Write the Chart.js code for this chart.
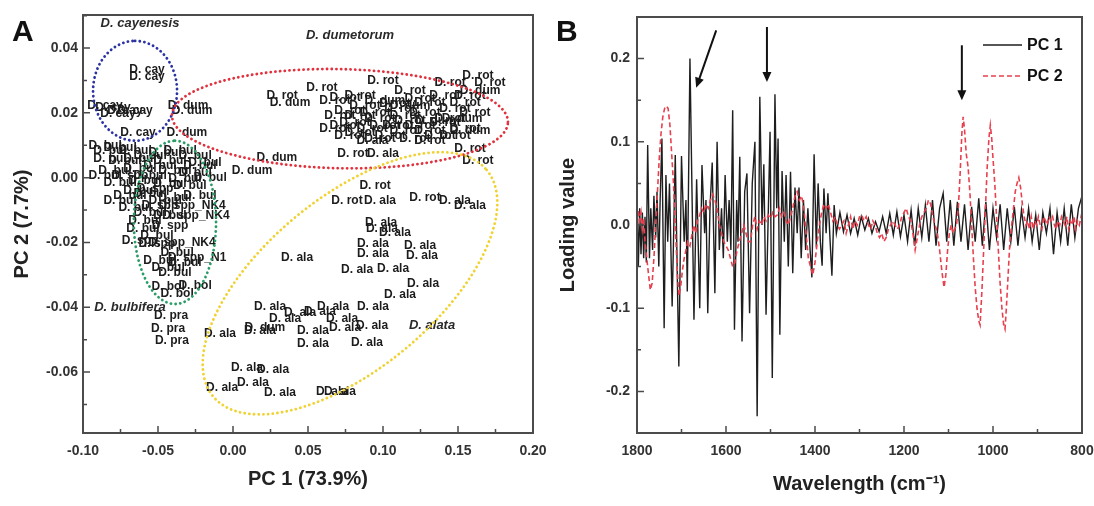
<!DOCTYPE html>
<html lang="en">
<head>
<meta charset="UTF-8" />
<title>PCA scores and loadings</title>
<script src="https://cdn.jsdelivr.net/npm/chart.js"></script>
<style>
  body { margin: 0; background: #fff; }
  #wrapA { position: absolute; left: 0; top: 0; width: 548px; height: 506px; }
  #wrapB { position: absolute; left: 548px; top: 0; width: 546px; height: 506px; }
</style>
</head>
<body>
<div id="wrapA"><canvas id="scoreChart"></canvas></div>
<div id="wrapB"><canvas id="loadingChart"></canvas></div>
<script>
// ---------- panel A : PC scores [PC1, PC2] for each sample ----------
const cayPoints = [[-0.0573, 0.0332], [-0.0573, 0.0311], [-0.0853, 0.0222], [-0.08, 0.0215], [-0.072, 0.0206],
  [-0.0767, 0.0197], [-0.0653, 0.0206], [-0.0633, 0.0138]];
const dumPoints = [[-0.03, 0.0222], [-0.0273, 0.0206], [-0.0307, 0.0138], [0.0293, 0.0062], [0.0127, 0.0022],
  [0.038, 0.0231], [0.1647, 0.0268], [0.1527, 0.0182], [0.158, 0.0145], [0.1013, 0.0237], [0.0213, -0.0462],
  [0.118, 0.0222], [0.135, 0.0175]];
const rotPoints = [[0.1633, 0.0314], [0.1713, 0.0292], [0.1447, 0.0292], [0.10, 0.0298], [0.0593, 0.0277],
  [0.0327, 0.0252], [0.0747, 0.0246], [0.118, 0.0268], [0.158, 0.0252], [0.088, 0.0222], [0.108, 0.0228],
  [0.1313, 0.0231], [0.148, 0.0212], [0.1613, 0.02], [0.0713, 0.0191], [0.0813, 0.0169], [0.098, 0.0182],
  [0.1147, 0.0191], [0.1247, 0.016], [0.1413, 0.0169], [0.1547, 0.0151], [0.068, 0.0151], [0.0847, 0.0138],
  [0.1047, 0.0129], [0.1213, 0.012], [0.138, 0.0129], [0.158, 0.0089], [0.1633, 0.0052], [0.08, 0.0074],
  [0.0947, -0.0025], [0.076, -0.0071], [0.128, -0.0062], [0.078, 0.0206], [0.0947, 0.02], [0.1113, 0.0212],
  [0.128, 0.02], [0.1447, 0.0182], [0.0747, 0.016], [0.0927, 0.0151], [0.11, 0.016], [0.1313, 0.0145], [0.148, 0.0129],
  [0.068, 0.0237], [0.0847, 0.0252], [0.1247, 0.0243], [0.1413, 0.0252], [0.1547, 0.0231], [0.078, 0.0129],
  [0.098, 0.012], [0.1147, 0.0145], [0.1313, 0.0114], [0.118, 0.0175], [0.1013, 0.016], [0.0847, 0.0191]];
const alaPoints = [[0.10, 0.0074], [0.098, -0.0071], [0.148, -0.0071], [0.158, -0.0086], [0.093, 0.0114],
  [0.0987, -0.0138], [0.0993, -0.0157], [0.108, -0.0169], [0.0933, -0.0203], [0.0933, -0.0234], [0.1247, -0.0209],
  [0.126, -0.024], [0.0427, -0.0246], [0.0827, -0.0283], [0.1067, -0.028], [0.1267, -0.0326], [0.1113, -0.036],
  [0.0247, -0.0397], [0.0667, -0.0397], [0.0933, -0.0397], [0.058, -0.0415], [0.0447, -0.0418], [0.0727, -0.0434],
  [0.0927, -0.0458], [0.0533, -0.0471], [0.0747, -0.0462], [-0.0087, -0.048], [0.0533, -0.0511], [0.0893, -0.0508],
  [0.0093, -0.0585], [0.0267, -0.0594], [0.0133, -0.0634], [-0.0073, -0.0649], [0.0313, -0.0665], [0.066, -0.0662],
  [0.0713, -0.0662], [0.0347, -0.0434], [0.018, -0.0471]];
const bulPoints = [[-0.0853, 0.0098], [-0.0753, 0.0092], [-0.0653, 0.0083], [-0.082, 0.0058], [-0.072, 0.0052],
  [-0.0553, 0.0068], [-0.0453, 0.0077], [-0.0353, 0.0083], [-0.0253, 0.0068], [-0.0187, 0.0046], [-0.0787, 0.0022],
  [-0.062, 0.0028], [-0.0487, 0.0037], [-0.0387, 0.0022], [-0.0253, 0.0015], [-0.0153, 0.0], [-0.0753, -0.0015],
  [-0.0587, -0.0009], [-0.042, -0.0018], [-0.0287, -0.0025], [-0.0687, -0.0055], [-0.0553, -0.0049],
  [-0.0387, -0.0062], [-0.022, -0.0055], [-0.0653, -0.0092], [-0.0553, -0.0108], [-0.06, -0.0157],
  [-0.0507, -0.0178], [-0.0373, -0.0231], [-0.0433, -0.0277], [-0.0387, -0.0292], [-0.0487, -0.0255], [-0.032, -0.0262],
  [-0.082, 0.0083], [-0.062, 0.0058], [-0.042, 0.0052], [-0.022, 0.0037], [-0.0853, 0.0006], [-0.0553, 0.0006],
  [-0.032, -0.0003], [-0.062, -0.004], [-0.0453, -0.0071], [-0.0753, -0.0071], [-0.0587, -0.0132], [-0.042, -0.0117]];
const sppPoints = [[-0.0687, 0.0006], [-0.052, -0.0034], [-0.0487, -0.0086], [-0.0507, -0.0203], [-0.042, -0.0148], [-0.062, -0.0194]];
const nk4Points = [[-0.0273, -0.0086], [-0.0247, -0.0117], [-0.034, -0.02]];
const n1Points = [[-0.024, -0.0246]];
const praPoints = [[-0.0413, -0.0425], [-0.0433, -0.0465], [-0.0407, -0.0502]];
const bolPoints = [[-0.0433, -0.0338], [-0.0253, -0.0332], [-0.0373, -0.0357]];

const sampleGroups = [
  ['D. cay', cayPoints], ['D. dum', dumPoints], ['D. rot', rotPoints], ['D. ala', alaPoints],
  ['D. bul', bulPoints], ['D. spp', sppPoints], ['D. spp_NK4', nk4Points], ['D. spp_N1', n1Points],
  ['D. pra', praPoints], ['D. bol', bolPoints]
];

const scoreXTicks = [-0.10, -0.05, 0, 0.05, 0.10, 0.15, 0.20];
const scoreYTicks = [-0.06, -0.04, -0.02, 0, 0.02, 0.04];

// species names written in italics
const speciesNames = ['D. cayenesis', 'D. dumetorum', 'D. bulbifera', 'D. alata'];
const speciesX = [-0.062, 0.078, -0.0687, 0.1327];
const speciesY = [0.0477, 0.044, -0.04, -0.0455];

// group ellipses: centre, end of first axis, end of second axis (data units)
const ellipseCentre = [[-0.0653, 0.0268], [0.0713, 0.0182], [-0.0387, -0.0138], [0.078, -0.0326]];
const ellipseAxisA = [[-0.0653, 0.0422], [0.1833, 0.0172], [-0.0387, 0.0114], [0.1691, 0.0024]];
const ellipseAxisB = [[-0.0373, 0.0268], [0.0713, 0.0335], [-0.0113, -0.0138], [0.1147, -0.0529]];
const ellipseColor = ['#2b33a3', '#e2303c', '#2a9c66', '#f0d232'];

// ---------- panel B : loadings ----------
const pc1Wave = [1800, 1797, 1794, 1791, 1788, 1785, 1782, 1779, 1776, 1772, 1769, 1765, 1762, 1758, 1755, 1751, 1748, 1744,
  1739, 1735, 1731, 1727, 1721, 1714, 1706, 1700, 1694, 1690, 1687, 1681, 1672, 1666, 1659, 1654, 1648, 1645, 1641,
  1636, 1631, 1625, 1620, 1615, 1610, 1606, 1602, 1597, 1593, 1589, 1585, 1581, 1576, 1573, 1569, 1564, 1558, 1553,
  1547, 1541, 1535, 1530, 1524, 1519, 1515, 1510, 1501, 1496, 1490, 1486, 1483, 1479, 1474, 1469, 1465, 1460, 1455,
  1450, 1445, 1440, 1436, 1431, 1426, 1421, 1416, 1411, 1407, 1402, 1397, 1393, 1388, 1384, 1380, 1375, 1371, 1366,
  1362, 1357, 1352, 1344, 1336, 1328, 1320, 1312, 1304, 1296, 1288, 1280, 1272, 1264, 1256, 1248, 1240, 1232, 1224,
  1216, 1208, 1200, 1192, 1184, 1176, 1168, 1160, 1152, 1144, 1136, 1128, 1120, 1112, 1104, 1096, 1088, 1080, 1072,
  1064, 1056, 1048, 1040, 1032, 1024, 1016, 1008, 1000, 992, 984, 976, 968, 960, 952, 944, 936, 928, 920, 912, 904,
  896, 888, 880, 872, 864, 856, 848, 840, 832, 824, 816, 808, 800];
const pc1Load = [0.03, -0.05, 0.02, -0.035, 0.015, -0.04, 0.01, -0.045, 0.096, -0.04, 0.02, -0.03, 0.035, -0.015, 0.04, -0.05, 0.03, 0.104,
  -0.124, 0.06, -0.02, 0.05, -0.098, 0.084, -0.17, 0.083, -0.02, 0.03, -0.08, 0.2, -0.114, 0.055, -0.1, 0.072, -0.01, 0.03, -0.106,
  0.02, 0.075, -0.082, 0.1, -0.03, 0.02, -0.04, 0.06, -0.02, 0.03, -0.03, 0.138, -0.126, 0.03, -0.02, 0.082, -0.14, 0.04, 0.062,
  -0.106, 0.05, 0.1, -0.23, 0.154, 0.0, 0.073, -0.108, 0.112, -0.184, 0.157, 0.02, 0.104, -0.132, 0.065, -0.02, 0.06, -0.05, 0.064,
  -0.058, 0.045, -0.01, 0.045, -0.04, 0.03, -0.03, 0.02, -0.03, -0.063, 0.085, -0.027, 0.05, -0.02, -0.049, 0.044, -0.01, 0.038, -0.02,
  -0.061, 0.024, -0.01, 0.015, -0.008, 0.012, -0.01, 0.008, -0.012, 0.01, -0.006, 0.008, -0.01, 0.004, -0.008, 0.01, -0.01, 0.014, -0.012,
  0.016, -0.014, 0.012, -0.02, 0.018, -0.025, 0.02, -0.015, 0.024, -0.02, 0.03, -0.025, 0.02, 0.038, -0.02, 0.03, -0.025, 0.028, -0.02,
  0.025, -0.03, 0.022, -0.02, 0.032, -0.025, 0.028, -0.03, 0.02, -0.015, 0.025, -0.03, 0.02, -0.02, 0.022, -0.025, 0.018, -0.015, 0.02, -0.02, 0.012,
  -0.03, 0.015, -0.01, 0.02, -0.035, 0.015, -0.02, 0.02, -0.025, 0.025, -0.015, 0.02, 0.035];

const pc2Wave = [1800, 1797, 1794, 1791, 1788, 1785, 1782, 1778, 1774, 1770, 1766, 1762, 1758, 1754, 1750, 1746, 1742, 1738,
  1734, 1730, 1726, 1722, 1718, 1714, 1710, 1706, 1702, 1698, 1694, 1690, 1686, 1681, 1676, 1672, 1668, 1664, 1660, 1655,
  1650, 1645, 1640, 1635, 1630, 1625, 1620, 1615, 1610, 1605, 1600, 1595, 1590, 1585, 1580, 1575, 1570, 1565, 1560, 1555,
  1550, 1545, 1540, 1535, 1530, 1525, 1520, 1515, 1510, 1505, 1500, 1495, 1490, 1485, 1480, 1475, 1470, 1465, 1460, 1455,
  1450, 1445, 1440, 1435, 1430, 1425, 1420, 1415, 1410, 1405, 1400, 1395, 1390, 1385, 1380, 1375, 1370, 1365, 1360, 1355,
  1350, 1345, 1340, 1335, 1330, 1325, 1320, 1315, 1310, 1305, 1300, 1295, 1290, 1285, 1280, 1275, 1270, 1265, 1260, 1255,
  1250, 1245, 1240, 1235, 1230, 1225, 1220, 1215, 1210, 1205, 1200, 1195, 1190, 1185, 1180, 1175, 1170, 1165, 1160, 1155,
  1150, 1145, 1140, 1135, 1130, 1125, 1120, 1115, 1110, 1106, 1102, 1098, 1094, 1090, 1086, 1082, 1078, 1074, 1070, 1067,
  1064, 1060, 1056, 1052, 1048, 1044, 1040, 1036, 1032, 1029, 1025, 1021, 1017, 1013, 1009, 1006, 1003, 1000, 996, 992,
  988, 984, 980, 976, 973, 970, 966, 962, 958, 954, 950, 946, 942, 938, 934, 930, 926, 922, 918, 914, 910, 906, 902, 898,
  894, 890, 886, 882, 878, 874, 870, 866, 862, 858, 854, 850, 846, 842, 838, 834, 830, 826, 822, 818, 814, 810, 806, 802, 800];
const pc2Load = [0.0, 0.018, 0.005, 0.015, -0.005, 0.008, -0.02, -0.04, -0.06, -0.078, -0.07, -0.04, 0.0, 0.04, 0.08, 0.11, 0.13, 0.14,
  0.143, 0.14, 0.12, 0.085, 0.05, 0.0, -0.05, -0.085, -0.075, -0.055, -0.04, -0.03, -0.02, -0.025, -0.01, 0.0, -0.01, 0.005, 0.01, 0.02,
  0.015, 0.025, 0.02, 0.03, 0.037, 0.03, 0.02, 0.0, -0.01, -0.02, -0.025, -0.03, -0.04, -0.05, -0.045, -0.03, -0.02, -0.01, 0.0, -0.01,
  -0.02, -0.02, 0.0, 0.01, -0.005, 0.005, 0.0, 0.01, 0.005, 0.012, 0.008, 0.015, 0.01, 0.012, 0.02, 0.01, 0.015, 0.005, 0.0, 0.01,
  0.02, 0.035, 0.04, 0.03, 0.035, 0.02, -0.01, -0.04, -0.05, -0.06, -0.045, -0.02, 0.0, 0.015, 0.025, 0.02, 0.025, 0.015, 0.005, 0.01,
  0.0, -0.005, 0.0, 0.005, -0.01, 0.0, 0.01, -0.005, 0.005, 0.0, 0.01, 0.012, 0.005, 0.01, 0.0, -0.005, 0.005, 0.0, -0.01, -0.015,
  -0.01, -0.02, -0.015, -0.005, 0.0, 0.005, 0.0, -0.005, 0.0, 0.01, 0.015, 0.02, 0.01, 0.005, -0.01, -0.03, -0.015, 0.0, 0.01, 0.015,
  0.02, 0.03, 0.025, 0.01, 0.0, -0.01, -0.03, -0.055, -0.075, -0.06, -0.03, -0.01, 0.0, -0.01, -0.005, 0.0, 0.02, 0.06, 0.11, 0.13,
  0.115, 0.085, 0.07, 0.04, 0.0, -0.04, -0.075, -0.1, -0.115, -0.12, -0.08, -0.03, 0.02, 0.07, 0.105, 0.12, 0.105, 0.08, 0.05, 0.01,
  -0.03, -0.07, -0.1, -0.12, -0.125, -0.1, -0.06, -0.02, 0.0, 0.02, 0.04, 0.05, 0.057, 0.045, 0.025, 0.01, 0.0, 0.005, -0.005, 0.01, -0.005, 0.005, 0.0, 0.01,
  0.0, -0.005, 0.01, 0.005, 0.0, 0.01, 0.005, 0.01, 0.0, -0.005, 0.005, 0.0, 0.01, 0.005, 0.0, 0.01, -0.005, 0.005, 0.0, 0.01, -0.005, 0.005, 0.0, 0.01, 0.005];

const loadXTicks = [1800, 1600, 1400, 1200, 1000, 800];
const loadYTicks = [-0.2, -0.1, 0, 0.1, 0.2];

// arrows marking bands: tail and head (wavenumber, loading)
const arrowTail = [[1622, 0.234], [1508, 0.238], [1070, 0.216]];
const arrowHead = [[1667, 0.165], [1508, 0.172], [1070, 0.15]];

const FONT = '"Liberation Sans", Arial, sans-serif';
const tickFont = { family: FONT, size: 14, weight: 'bold' };
const titleFont = { family: FONT, size: 20, weight: 'bold' };

function fmt(v, d) {
  return Math.abs(v) < 1e-9 ? (0).toFixed(d) : v.toFixed(d);
}

// box round the plot area and inward tick marks, like the original software
const framePlugin = {
  id: 'frame',
  afterDraw(chart, args, opts) {
    const { ctx, chartArea: a, scales: { x, y } } = chart;
    ctx.save();
    ctx.strokeStyle = '#4b4b4b';
    ctx.lineWidth = 1.5;
    ctx.beginPath();
    x.ticks.forEach(t => {
      const px = x.getPixelForValue(t.value);
      ctx.moveTo(px, a.bottom); ctx.lineTo(px, a.bottom - 7);
    });
    y.ticks.forEach(t => {
      const py = y.getPixelForValue(t.value);
      ctx.moveTo(a.left, py); ctx.lineTo(a.left + 7, py);
    });
    for (let v = Math.ceil(x.min / opts.xMinor) * opts.xMinor; v <= x.max; v += opts.xMinor) {
      const px = x.getPixelForValue(v);
      ctx.moveTo(px, a.bottom); ctx.lineTo(px, a.bottom - 4);
    }
    for (let v = Math.ceil(y.min / opts.yMinor) * opts.yMinor; v <= y.max; v += opts.yMinor) {
      const py = y.getPixelForValue(v);
      ctx.moveTo(a.left, py); ctx.lineTo(a.left + 4, py);
    }
    ctx.stroke();
    ctx.lineWidth = 2;
    ctx.strokeRect(a.left, a.top, a.right - a.left, a.bottom - a.top);
    ctx.fillStyle = '#111';
    ctx.font = 'bold 30px ' + FONT;
    ctx.textAlign = 'left';
    ctx.textBaseline = 'alphabetic';
    ctx.fillText(opts.letter, opts.letterX, 41);
    ctx.restore();
  }
};

// sample names drawn at each score, then the dotted group ellipses
const scoreDecor = {
  id: 'scoreDecor',
  afterDatasetsDraw(chart) {
    const { ctx, scales: { x, y } } = chart;
    ctx.save();
    ctx.font = 'bold 12px ' + FONT;
    ctx.fillStyle = '#1c1c1c';
    ctx.textAlign = 'center';
    ctx.textBaseline = 'middle';
    chart.data.datasets.forEach((ds, i) => {
      chart.getDatasetMeta(i).data.forEach(el => ctx.fillText(ds.label, el.x, el.y));
    });

    ctx.font = 'italic bold 13px ' + FONT;
    ctx.fillStyle = '#2a2a2a';
    speciesNames.forEach((s, i) => {
      ctx.fillText(s, x.getPixelForValue(speciesX[i]), y.getPixelForValue(speciesY[i]));
    });

    ctx.lineWidth = 2.8;
    ctx.lineCap = 'round';
    ctx.setLineDash([0.1, 4.6]);
    ellipseCentre.forEach((c, i) => {
      const cx = x.getPixelForValue(c[0]), cy = y.getPixelForValue(c[1]);
      const ux = x.getPixelForValue(ellipseAxisA[i][0]) - cx, uy = y.getPixelForValue(ellipseAxisA[i][1]) - cy;
      const vx = x.getPixelForValue(ellipseAxisB[i][0]) - cx, vy = y.getPixelForValue(ellipseAxisB[i][1]) - cy;
      ctx.strokeStyle = ellipseColor[i];
      ctx.beginPath();
      for (let k = 0; k <= 200; k++) {
        const t = k / 200 * Math.PI * 2;
        const px = cx + ux * Math.cos(t) + vx * Math.sin(t);
        const py = cy + uy * Math.cos(t) + vy * Math.sin(t);
        if (k === 0) ctx.moveTo(px, py); else ctx.lineTo(px, py);
      }
      ctx.stroke();
    });
    ctx.restore();
  }
};

// arrows and the small legend box of panel B
const loadingDecor = {
  id: 'loadingDecor',
  afterDatasetsDraw(chart) {
    const { ctx, chartArea: a, scales: { x, y } } = chart;
    ctx.save();
    ctx.strokeStyle = '#111';
    ctx.fillStyle = '#111';
    ctx.lineWidth = 2;
    arrowTail.forEach((t, i) => {
      const x0 = x.getPixelForValue(t[0]), y0 = y.getPixelForValue(t[1]);
      const x1 = x.getPixelForValue(arrowHead[i][0]), y1 = y.getPixelForValue(arrowHead[i][1]);
      const ang = Math.atan2(y1 - y0, x1 - x0);
      ctx.beginPath();
      ctx.moveTo(x0, y0);
      ctx.lineTo(x1 - 7 * Math.cos(ang), y1 - 7 * Math.sin(ang));
      ctx.stroke();
      ctx.beginPath();
      ctx.moveTo(x1, y1);
      ctx.lineTo(x1 - 10 * Math.cos(ang) + 4.5 * Math.sin(ang), y1 - 10 * Math.sin(ang) - 4.5 * Math.cos(ang));
      ctx.lineTo(x1 - 10 * Math.cos(ang) - 4.5 * Math.sin(ang), y1 - 10 * Math.sin(ang) + 4.5 * Math.cos(ang));
      ctx.closePath();
      ctx.fill();
    });

    ctx.font = 'bold 16px ' + FONT;
    ctx.textAlign = 'left';
    ctx.textBaseline = 'middle';
    chart.data.datasets.forEach((ds, i) => {
      const ly = a.top + 28 + i * 31;
      ctx.strokeStyle = ds.borderColor;
      ctx.lineWidth = 1.6;
      ctx.setLineDash(ds.borderDash || []);
      ctx.beginPath();
      ctx.moveTo(a.right - 99, ly);
      ctx.lineTo(a.right - 60, ly);
      ctx.stroke();
      ctx.fillStyle = '#111';
      ctx.fillText(ds.label, a.right - 55, ly + 1);
    });
    ctx.restore();
  }
};

function axisBase(tickValues, size, horizontal) {
  return {
    grid: { display: false, drawTicks: false },
    border: { display: false },
    afterBuildTicks: s => { s.ticks = tickValues.map(v => ({ value: v })); },
    afterFit: s => {
      if (horizontal) {
        s.height = size;
        s.paddingLeft = 0;
        s.paddingRight = 0;
      } else {
        s.width = size;
        s.paddingTop = 0;
        s.paddingBottom = 0;
      }
    }
  };
}

new Chart(document.getElementById('scoreChart'), {
  type: 'scatter',
  data: {
    datasets: sampleGroups.map(([name, pts]) => ({
      label: name,
      data: pts.map(p => ({ x: p[0], y: p[1] })),
      pointRadius: 0
    }))
  },
  options: {
    animation: false,
    responsive: true,
    maintainAspectRatio: false,
    layout: { padding: { top: 15, right: 15, bottom: 0, left: 0 } },
    plugins: {
      legend: { display: false },
      tooltip: { enabled: false },
      frame: { xMinor: 0.025, yMinor: 0.01, letter: 'A', letterX: 12 }
    },
    scales: {
      x: {
        ...axisBase(scoreXTicks, 73, true),
        type: 'linear', min: -0.10, max: 0.20,
        ticks: { padding: 10, color: '#333', font: tickFont, callback: v => fmt(v, 2) },
        title: { display: true, text: 'PC 1 (73.9%)', color: '#222', font: titleFont, padding: { bottom: 15 } }
      },
      y: {
        ...axisBase(scoreYTicks, 83, false),
        min: -0.0788, max: 0.0502,
        ticks: { padding: 5, color: '#333', font: tickFont, callback: v => fmt(v, 2) },
        title: { display: true, text: 'PC 2 (7.7%)', color: '#222', font: titleFont, padding: { top: 10 } }
      }
    }
  },
  plugins: [framePlugin, scoreDecor]
});

new Chart(document.getElementById('loadingChart'), {
  type: 'scatter',
  data: {
    datasets: [
      {
        label: 'PC 1',
        data: pc1Wave.map((w, i) => ({ x: w, y: pc1Load[i] })),
        showLine: true, borderColor: '#1e1e1e', borderWidth: 1.4, pointRadius: 0, order: 2
      },
      {
        label: 'PC 2',
        data: pc2Wave.map((w, i) => ({ x: w, y: pc2Load[i] })),
        showLine: true, borderColor: '#e8404e', borderWidth: 1.6, borderDash: [5, 3], pointRadius: 0, order: 1
      }
    ]
  },
  options: {
    animation: false,
    responsive: true,
    maintainAspectRatio: false,
    layout: { padding: { top: 17, right: 12, bottom: 0, left: 0 } },
    plugins: {
      legend: { display: false },
      tooltip: { enabled: false },
      frame: { xMinor: 100, yMinor: 0.05, letter: 'B', letterX: 8 }
    },
    scales: {
      x: {
        ...axisBase(loadXTicks, 73, true),
        type: 'linear', reverse: true, min: 800, max: 1800,
        ticks: { padding: 10, color: '#333', font: tickFont, callback: v => String(v) },
        title: { display: true, text: 'Wavelength (cm⁻¹)', color: '#222', font: titleFont, padding: { bottom: 10 } }
      },
      y: {
        ...axisBase(loadYTicks, 89, false),
        min: -0.25, max: 0.25,
        ticks: { padding: 7, color: '#333', font: tickFont, callback: v => fmt(v, 1) },
        title: { display: true, text: 'Loading value', color: '#222', font: titleFont, padding: { top: 8 } }
      }
    }
  },
  plugins: [framePlugin, loadingDecor]
});
</script>
</body>
</html>
